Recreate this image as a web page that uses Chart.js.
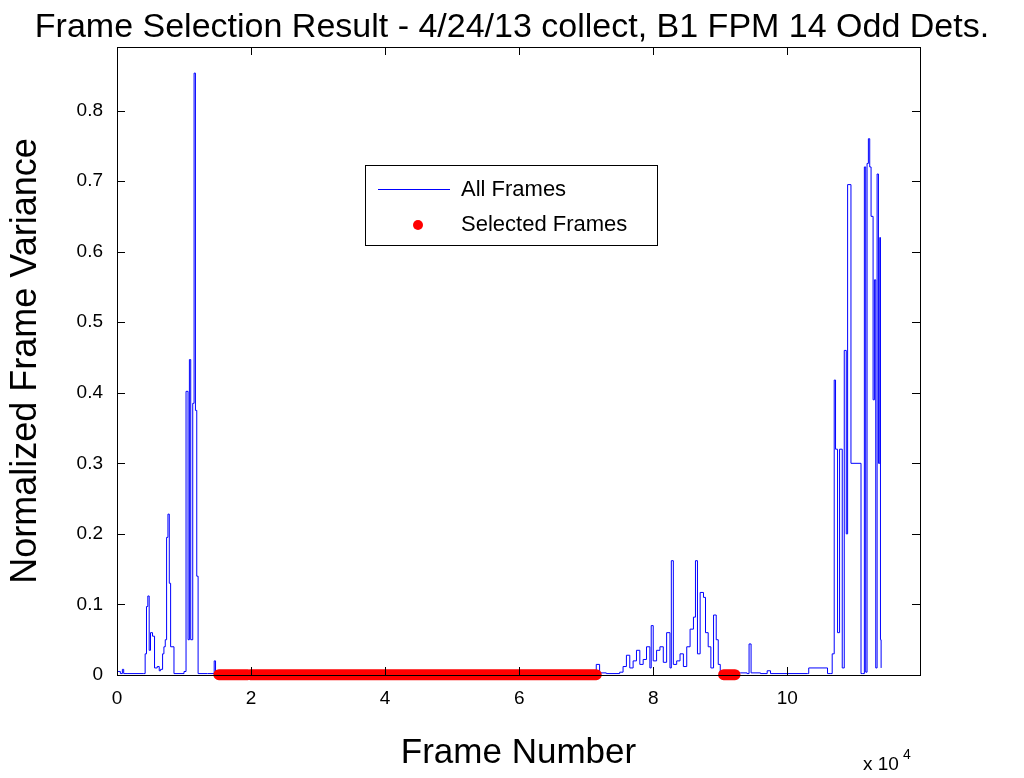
<!DOCTYPE html>
<html><head><meta charset="utf-8">
<script src="https://cdn.jsdelivr.net/npm/chart.js@4"></script>
<style>html,body{margin:0;padding:0;background:#fff}#w{width:1024px;height:778px}</style>
</head><body><div id="w"><canvas id="c"></canvas></div>
<script>
// x in units of 1e4 frames
const allX = [0,0.05,0.08,0.1,0.15,0.4,0.42,0.44,0.46,0.48,0.5,0.53,0.56,0.6,0.63,0.65,0.68,0.7,0.72,0.74,0.76,0.78,0.8,0.85,1.0,1.03,1.06,1.08,1.1,1.13,1.15,1.17,1.19,1.21,1.35,1.45,1.47,
 1.6,3,5,7.1,7.15,7.2,7.3,7.5,7.55,7.6,7.65,7.7,7.75,7.8,7.85,7.9,7.95,7.97,8.0,8.05,8.1,8.15,8.2,8.25,8.27,8.3,8.35,8.4,8.45,8.5,8.55,8.6,8.63,8.66,8.7,8.75,8.78,8.82,8.86,8.9,8.94,8.97,9.0,9.05,9.3,9.4,9.43,9.46,9.6,9.7,9.75,10.3,10.32,10.6,10.65,10.67,10.7,10.72,10.75,10.78,10.82,10.85,10.88,10.9,10.95,11.1,11.12,11.15,11.17,11.19,11.21,11.23,11.25,11.28,11.3,11.32,11.34,11.36,11.38,11.39,11.4];
const allY = [0.005,0.002,0.008,0.002,0.002,0.002,0.03,0.097,0.112,0.035,0.06,0.055,0.01,0.012,0.006,0.008,0.03,0.04,0.05,0.195,0.228,0.13,0.04,0.002,0.005,0.402,0.05,0.447,0.05,0.385,0.853,0.375,0.14,0.002,0.002,0.02,0.002,
 0.001,0.001,0.001,0.001,0.015,0.003,0.002,0.004,0.012,0.028,0.01,0.02,0.035,0.015,0.022,0.04,0.01,0.07,0.02,0.035,0.04,0.018,0.06,0.01,0.162,0.015,0.02,0.03,0.012,0.04,0.065,0.082,0.162,0.03,0.117,0.11,0.06,0.04,0.01,0.085,0.05,0.015,0.003,0.003,0.003,0.002,0.044,0.003,0.002,0.006,0.002,0.002,0.01,0.002,0.002,0.03,0.418,0.32,0.06,0.32,0.01,0.46,0.2,0.695,0.3,0.002,0.002,0.72,0.004,0.725,0.76,0.72,0.65,0.39,0.56,0.01,0.71,0.3,0.62,0.05,0.01,0.002,0.002];
const selRanges = [[1.52,1.95],[1.99,7.15],[9.05,9.22]];
const xTicks = [0,2,4,6,8,10];
const yTicks = [0,0.1,0.2,0.3,0.4,0.5,0.6,0.7,0.8];

const selData = [];
selRanges.forEach(r=>{selData.push({x:r[0],y:0.0005},{x:r[1],y:0.0005},{x:r[1]+0.01,y:null});});

const F = 'Liberation Sans, Arial, sans-serif';
const deco = {id:'deco', afterDraw(ch){
  const c=ch.ctx,a=ch.chartArea,xs=ch.scales.x,ys=ch.scales.y;
  c.save();c.strokeStyle='#000';c.lineWidth=1;
  c.strokeRect(a.left+0.5,a.top+0.5,a.right-a.left,a.bottom-a.top);
  c.beginPath();
  xTicks.forEach(v=>{const p=Math.round(xs.getPixelForValue(v))+0.5;c.moveTo(p,a.bottom);c.lineTo(p,a.bottom-8);c.moveTo(p,a.top);c.lineTo(p,a.top+8);});
  yTicks.forEach(v=>{const p=Math.round(ys.getPixelForValue(v))+0.5;c.moveTo(a.left,p);c.lineTo(a.left+8,p);c.moveTo(a.right,p);c.lineTo(a.right-8,p);});
  c.stroke();
  c.fillStyle='#000';c.textAlign='center';c.textBaseline='middle';
  c.font='34px '+F;c.fillText('Frame Selection Result - 4/24/13 collect, B1 FPM 14 Odd Dets.',512,28);
  c.textBaseline='alphabetic';
  c.font='19px '+F;c.textAlign='left';c.fillText('x 10',863,770);c.font='14px '+F;c.fillText('4',903,759);
  c.restore();
}};

new Chart(document.getElementById('c'),{
  type:'line',
  data:{datasets:[
    {label:'All Frames',order:1,data:allX.map((x,i)=>({x:x,y:allY[i]})),borderColor:'#0000ff',borderWidth:1,pointRadius:0,stepped:true,fill:false},
    {label:'Selected Frames',order:0,data:selData,borderColor:'#ff0000',backgroundColor:'#ff0000',borderWidth:11,borderCapStyle:'round',pointRadius:0,spanGaps:false,clip:false}
  ]},
  options:{animation:false,responsive:true,maintainAspectRatio:false,
    layout:{padding:{top:47,right:104,left:0,bottom:0}},
    plugins:{legend:{display:false},tooltip:{enabled:false}},
    scales:{
      x:{type:'linear',min:0,max:11.98,grid:{display:false},border:{display:false},
        afterBuildTicks(s){s.ticks=xTicks.map(v=>({value:v}));},
        afterFit(s){s.height=103;},
        ticks:{color:'#000',font:{family:F,size:19},padding:4,maxRotation:0},
        title:{display:true,text:'Frame Number',color:'#000',font:{family:F,size:35},padding:{top:2}}},
      y:{min:0,max:0.89,grid:{display:false},border:{display:false},
        afterBuildTicks(s){s.ticks=yTicks.map(v=>({value:v}));},
        afterFit(s){s.width=117;},
        ticks:{color:'#000',font:{family:F,size:19},padding:6,callback:v=>v===0?'0':String(v)},
        title:{display:true,text:'Normalized Frame Variance',color:'#000',font:{family:F,size:36},padding:{bottom:6}}}
    }
  },
  plugins:[deco,{id:'leg',afterDraw(ch){
    const c=ch.ctx;c.save();c.fillStyle='#fff';c.fillRect(365,165,292,80);c.strokeStyle='#000';c.lineWidth=1;c.strokeRect(365.5,165.5,292,80);
    c.strokeStyle='#0000ff';c.beginPath();c.moveTo(378,189.5);c.lineTo(450,189.5);c.stroke();
    c.fillStyle='#ff0000';c.beginPath();c.arc(418,225,5,0,Math.PI*2);c.fill();
    c.fillStyle='#000';c.font='22px '+F;c.textBaseline='middle';c.fillText('All Frames',461,190);c.fillText('Selected Frames',461,225);
    c.restore();}}]
});
</script></body></html>
